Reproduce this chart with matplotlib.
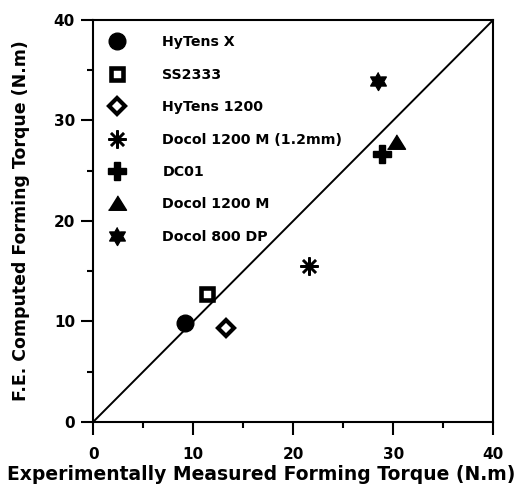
import numpy as np
import matplotlib.pyplot as plt

plt.rcParams['font.family'] = ['DejaVu Sans']
plt.rcParams['font.weight'] = 'bold'

# measured vs computed forming torque, one point per material
materials = ['HyTens X', 'SS2333', 'HyTens 1200', 'Docol 1200 M (1.2mm)',
             'DC01', 'Docol 1200 M', 'Docol 800 DP']
measured = [9.2, 11.4, 13.3, 21.6, 28.9, 30.3, 28.5]
computed = [9.8, 12.7, 9.4, 15.5, 26.7, 27.9, 33.9]

# six-pointed star (two overlapping triangles)
ang = np.deg2rad(90 + 30 * np.arange(12))
rad = np.where(np.arange(12) % 2 == 0, 1.0, 1 / np.sqrt(3))
star6 = list(zip(rad * np.cos(ang), rad * np.sin(ang)))
# slightly flattened triangle
tri = [(-1.0, -0.75), (1.0, -0.75), (0.0, 0.85)]

styles = [
    dict(marker='o', ms=12, mfc='black', mec='black'),
    dict(marker='s', ms=8.5, mfc='white', mec='black', mew=3.3),
    dict(marker='D', ms=8, mfc='white', mec='black', mew=3.0),
    dict(marker=(8, 2, 0), ms=13, mfc='black', mec='black', mew=1.8),
    dict(marker='P', ms=13.5, mfc='black', mec='black'),
    dict(marker=tri, ms=13, mfc='black', mec='black'),
    dict(marker=star6, ms=13, mfc='black', mec='black'),
]

fig = plt.figure(figsize=(5.23, 4.87), dpi=100)
ax = fig.add_axes([0.178, 0.1335, 0.765, 0.8255])

ax.plot([0, 40], [0, 40], color='black', lw=1.4, zorder=1)
for name, x, y, st in zip(materials, measured, computed, styles):
    ax.plot([x], [y], ls='none', label=name, zorder=3, clip_on=False, **st)

ax.set_xlim(0, 40)
ax.set_ylim(0, 40)
ax.set_xticks([0, 10, 20, 30, 40])
ax.set_yticks([0, 10, 20, 30, 40])
ax.set_xticks([5, 15, 25, 35], minor=True)
ax.set_yticks([5, 15, 25, 35], minor=True)
ax.tick_params(which='both', direction='out', width=1.5, labelsize=11)
ax.tick_params(which='major', length=9)
ax.tick_params(which='minor', length=4.5)
ax.tick_params(axis='x', which='major', pad=9)
ax.tick_params(axis='y', which='major', pad=4)
for sp in ax.spines.values():
    sp.set_linewidth(1.5)

ax.set_xlabel('Experimentally Measured Forming Torque (N.m)', fontsize=13.5,
              fontweight='bold')
ax.xaxis.set_label_coords(0.421, -0.107)
ax.set_ylabel('F.E. Computed Forming Torque (N.m)', fontsize=12.5,
              fontweight='bold', labelpad=17)

ax.legend(loc='upper left', frameon=False, fontsize=10.2, numpoints=1,
          handlelength=1.2, handletextpad=2.6, labelspacing=1.3,
          borderaxespad=0.2, bbox_to_anchor=(0.0175, 0.983))

fig.savefig('out.png', dpi=100)
